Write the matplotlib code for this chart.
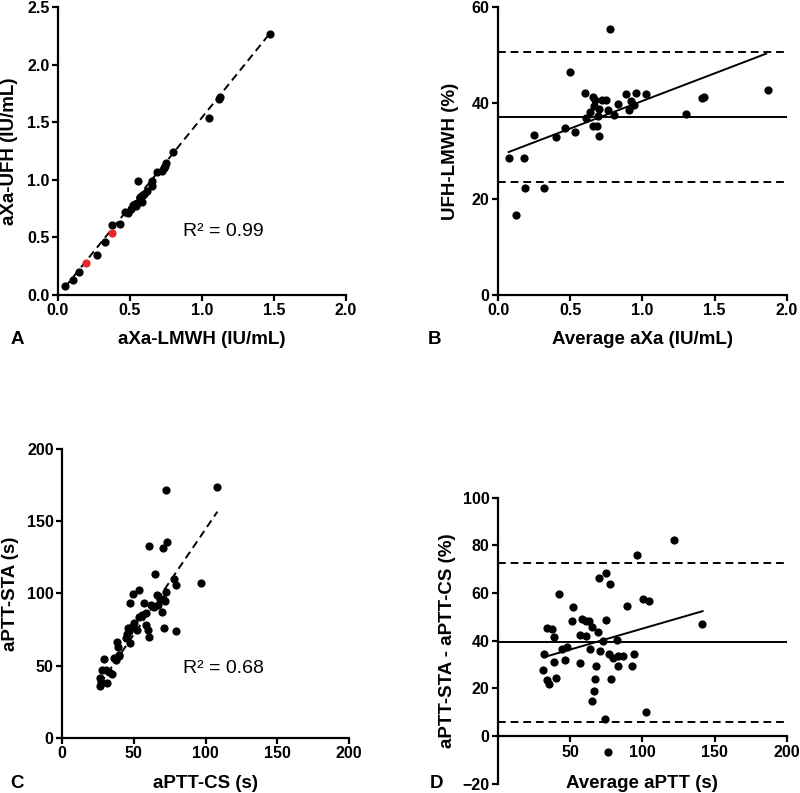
import matplotlib
matplotlib.use("Agg")
import matplotlib.pyplot as plt

plt.rcParams['font.family'] = ['Liberation Sans', 'DejaVu Sans']
plt.rcParams['font.weight'] = 'bold'
plt.rcParams['axes.labelweight'] = 'bold'

# A: aXa LMWH vs UFH
a_lmwh = [0.051, 0.104, 0.146, 0.274, 0.325, 0.374, 0.434, 0.464, 0.487, 0.51,
          0.52, 0.534, 0.545, 0.55, 0.555, 0.568, 0.57, 0.58, 0.585, 0.596,
          0.615, 0.65, 0.654, 0.69, 0.72, 0.735, 0.742, 0.747, 0.80, 1.05,
          1.12, 1.125, 1.47]
a_ufh = [0.078, 0.13, 0.20, 0.35, 0.46, 0.61, 0.62, 0.72, 0.71, 0.75,
         0.78, 0.79, 0.77, 0.80, 0.99, 0.84, 0.85, 0.81, 0.86, 0.88,
         0.90, 0.95, 0.99, 1.07, 1.08, 1.10, 1.12, 1.15, 1.24, 1.54,
         1.70, 1.72, 2.27]
a_red_lmwh = [0.197, 0.376]
a_red_ufh = [0.28, 0.54]
a_fit_x = [0.05, 1.47]
a_fit_y = [0.07, 2.27]

# B: Bland-Altman aXa
b_avg = [0.074, 0.182, 0.125, 0.187, 0.32, 0.247, 0.40, 0.461, 0.50, 0.535,
         0.60, 0.607, 0.635, 0.657, 0.662, 0.657, 0.669, 0.685, 0.692, 0.70,
         0.70, 0.72, 0.747, 0.759, 0.777, 0.80, 0.828, 0.888, 0.909, 0.92,
         0.939, 0.953, 1.027, 1.30, 1.41, 1.425, 1.873]
b_diff = [28.6, 28.6, 16.6, 22.2, 22.2, 33.3, 32.9, 34.8, 46.4, 34.0,
          42.0, 36.8, 38.2, 41.3, 39.4, 35.2, 40.6, 35.3, 37.4, 33.1,
          38.8, 40.6, 40.6, 38.5, 55.5, 37.6, 39.9, 41.8, 38.6, 40.4,
          39.5, 42.1, 41.9, 37.8, 41.1, 41.3, 42.7]
b_mean = 37.2
b_limits = [23.6, 50.6]
b_fit_x = [0.074, 1.857]
b_fit_y = [29.8, 50.3]

# C: aPTT CS vs STA
c_cs = [108.2, 72.3, 60.5, 70.2, 73.2, 65.1, 97.1, 78.1, 79.5, 49.1,
        53.3, 47.3, 57.2, 65.9, 72.3, 70.2, 71.4, 64.4, 66.7, 69.3,
        58.2, 53.9, 56.0, 58.2, 59.6, 60.3, 71.1, 79.3, 49.8, 48.7,
        52.1, 45.2, 44.3, 47.5, 45.9, 47.0, 38.2, 38.7, 39.4, 37.8,
        36.5, 29.4, 30.4, 35.0, 33.0, 31.3, 26.2, 26.7, 27.8, 27.0,
        40.0, 62.0, 68.0]
c_sta = [173.9, 171.6, 132.8, 131.2, 135.8, 113.4, 107.2, 109.9, 105.8, 99.5,
         102.3, 93.3, 93.1, 98.8, 100.7, 96.5, 94.7, 90.8, 92.1, 87.5,
         86.6, 83.8, 85.0, 78.1, 74.6, 69.7, 76.2, 73.9, 79.7, 76.9,
         74.6, 72.3, 69.5, 65.4, 76.4, 74.0, 66.1, 63.0, 56.6, 53.8,
         55.5, 54.7, 47.3, 44.6, 46.0, 38.1, 41.3, 35.8, 46.9, 38.5,
         57.5, 92.0, 96.0]
c_fit_x = [26.7, 108.2]
c_fit_y = [37.6, 156.6]

# D: Bland-Altman aPTT
d_avg = [122.1, 96.6, 74.5, 70.1, 77.9, 42.3, 100.6, 104.7, 89.5, 52.0,
         51.3, 58.5, 60.6, 63.1, 65.0, 75.1, 69.2, 33.8, 37.2, 39.1,
         57.1, 60.8, 72.4, 82.1, 63.6, 70.8, 44.6, 47.6, 31.7, 77.0,
         79.3, 83.2, 86.7, 94.3, 141.0, 39.1, 46.5, 56.9, 68.2, 83.2,
         92.9, 31.2, 34.2, 35.2, 40.2, 67.3, 78.4, 66.8, 65.0, 102.4,
         74.0, 76.5]
d_diff = [82.2, 75.9, 68.2, 66.2, 63.8, 59.7, 57.4, 56.5, 54.6, 54.3,
          48.2, 49.3, 48.2, 48.3, 45.8, 48.6, 43.5, 45.5, 45.0, 41.6,
          42.5, 42.1, 40.1, 40.5, 36.5, 35.7, 36.4, 37.2, 34.5, 34.4,
          32.7, 33.6, 33.4, 34.3, 47.1, 31.2, 31.9, 30.8, 29.3, 29.3,
          29.6, 27.6, 23.7, 21.9, 24.4, 24.0, 24.1, 19.1, 14.9, 10.3,
          7.4, -6.5]
d_mean = 39.6
d_limits = [6.1, 72.6]
d_fit_x = [31.7, 141.7]
d_fit_y = [33.1, 52.4]

LABEL_SIZE = 13.5
TICK_SIZE = 11.5


def style_axes(ax):
    ax.spines['top'].set_visible(False)
    ax.spines['right'].set_visible(False)
    ax.spines['left'].set_linewidth(1.6)
    ax.spines['bottom'].set_linewidth(1.6)
    ax.tick_params(direction='out', width=1.6, length=4, labelsize=TICK_SIZE, pad=2)


fig = plt.figure(figsize=(8, 7.93), dpi=100)

# panel A
ax = fig.add_axes([0.0725, 0.628, 0.36, 0.363])
style_axes(ax)
ax.scatter(a_lmwh, a_ufh, s=24, color='black', zorder=3)
ax.scatter(a_red_lmwh, a_red_ufh, s=24, color='#e8262a', zorder=3)
ax.plot(a_fit_x, a_fit_y, 'k--', lw=1.4, dashes=(4, 2.5))
ax.set_xlim(0, 2)
ax.set_ylim(0, 2.5)
ax.set_xticks([0, 0.5, 1.0, 1.5, 2.0])
ax.set_yticks([0, 0.5, 1.0, 1.5, 2.0, 2.5])
ax.xaxis.set_major_formatter('{x:.1f}')
ax.yaxis.set_major_formatter('{x:.1f}')
ax.text(0.87, 0.51, 'R² = 0.99', fontsize=14, fontweight='normal')
ax.set_xlabel('aXa-LMWH (IU/mL)', fontsize=LABEL_SIZE, va='center')
ax.xaxis.set_label_coords(0.5, -0.153)
ax.set_ylabel('aXa-UFH (IU/mL)', fontsize=LABEL_SIZE, va='center')
ax.yaxis.set_label_coords(-0.167, 0.5)

# panel B
ax = fig.add_axes([0.6225, 0.628, 0.361, 0.363])
style_axes(ax)
ax.scatter(b_avg, b_diff, s=24, color='black', zorder=3)
ax.axhline(b_mean, color='black', lw=1.4)
for lim in b_limits:
    ax.axhline(lim, color='black', lw=1.4, ls='--', dashes=(4, 2.5))
ax.plot(b_fit_x, b_fit_y, color='black', lw=1.4)
ax.set_xlim(0, 2)
ax.set_ylim(0, 60)
ax.set_xticks([0, 0.5, 1.0, 1.5, 2.0])
ax.set_yticks([0, 20, 40, 60])
ax.xaxis.set_major_formatter('{x:.1f}')
ax.set_xlabel('Average aXa (IU/mL)', fontsize=LABEL_SIZE, va='center')
ax.xaxis.set_label_coords(0.5, -0.153)
ax.set_ylabel('UFH-LMWH (%)', fontsize=LABEL_SIZE, va='center')
ax.yaxis.set_label_coords(-0.166, 0.5)

# panel C
ax = fig.add_axes([0.0775, 0.0694, 0.359, 0.3644])
style_axes(ax)
ax.scatter(c_cs, c_sta, s=24, color='black', zorder=3)
ax.plot(c_fit_x, c_fit_y, 'k--', lw=1.4, dashes=(4, 2.5))
ax.set_xlim(0, 200)
ax.set_ylim(0, 200)
ax.set_xticks([0, 50, 100, 150, 200])
ax.set_yticks([0, 50, 100, 150, 200])
ax.text(84, 45, 'R² = 0.68', fontsize=14, fontweight='normal')
ax.set_xlabel('aPTT-CS (s)', fontsize=LABEL_SIZE, va='center')
ax.xaxis.set_label_coords(0.5, -0.156)
ax.set_ylabel('aPTT-STA (s)', fontsize=LABEL_SIZE, va='center')
ax.yaxis.set_label_coords(-0.181, 0.5)

# panel D
ax = fig.add_axes([0.6225, 0.0115, 0.361, 0.361])
style_axes(ax)
ax.spines['bottom'].set_position(('data', 0))
ax.scatter(d_avg, d_diff, s=24, color='black', zorder=3)
ax.axhline(d_mean, color='black', lw=1.4)
for lim in d_limits:
    ax.axhline(lim, color='black', lw=1.4, ls='--', dashes=(4, 2.5))
ax.plot(d_fit_x, d_fit_y, color='black', lw=1.4)
ax.set_xlim(0, 200)
ax.set_ylim(-20, 100)
ax.set_xticks([50, 100, 150, 200])
ax.set_yticks([-20, 0, 20, 40, 60, 80, 100])
ax.set_xlabel('Average aPTT (s)', fontsize=LABEL_SIZE, va='center')
ax.xaxis.set_label_coords(0.5, 0.003)
ax.set_ylabel('aPTT-STA - aPTT-CS (%)', fontsize=LABEL_SIZE, va='center')
ax.yaxis.set_label_coords(-0.176, 0.5)

# panel letters
fig.text(11 / 800, 1 - 340 / 793, 'A', fontsize=LABEL_SIZE, va='center')
fig.text(428 / 800, 1 - 340 / 793, 'B', fontsize=LABEL_SIZE, va='center')
fig.text(10 / 800, 1 - 783 / 793, 'C', fontsize=LABEL_SIZE, va='center')
fig.text(430 / 800, 1 - 783 / 793, 'D', fontsize=LABEL_SIZE, va='center')

fig.savefig('out.png', dpi=100)
